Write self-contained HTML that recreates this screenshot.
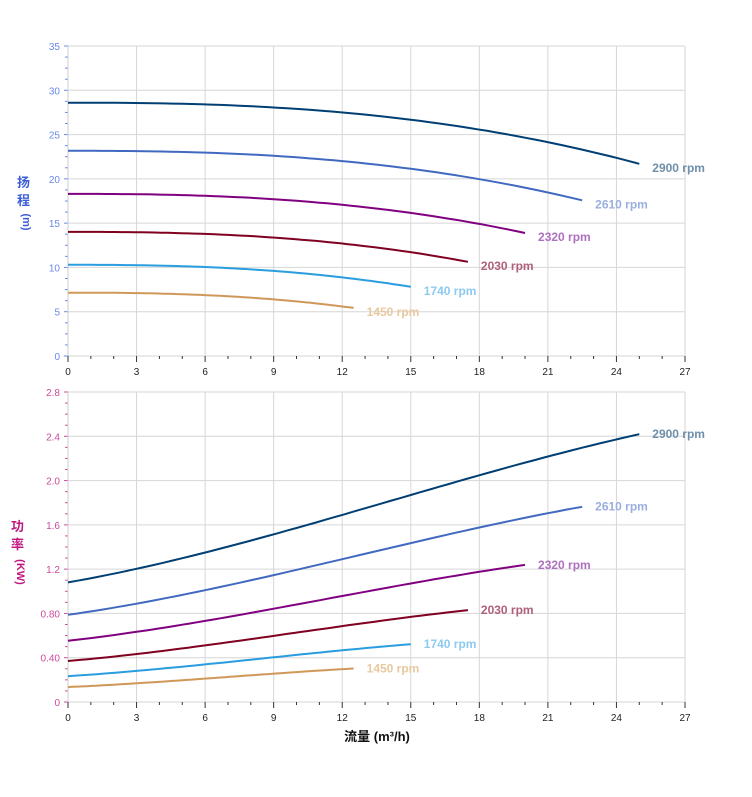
<!DOCTYPE html>
<html><head><meta charset="utf-8"><style>
body{margin:0;background:#fff}
svg{display:block;font-family:"Liberation Sans","Noto Sans CJK SC",sans-serif}
</style></head><body>
<svg id="s" width="752" height="797" xmlns="http://www.w3.org/2000/svg"></svg>
<script>
const s=document.getElementById('s');let h='';
const X0=68,X1=685,xs=q=>X0+q*(X1-X0)/27;
const T0=356,T1=46,ys1=v=>T0-v*(T0-T1)/35;
const B0=702,B1=392,ys2=v=>B0-v*(B0-B1)/2.8;
function grid(y0,y1,n,labels,col){
 for(let i=0;i<=9;i++){let x=xs(i*3);h+=`<line x1="${x}" y1="${y1}" x2="${x}" y2="${y0}" stroke="#d6d6d6"/>`;}
 for(let i=0;i<=n;i++){let y=y0-(y0-y1)*i/n;h+=`<line x1="${X0}" y1="${y}" x2="${X1}" y2="${y}" stroke="#d6d6d6"/>`;
  h+=`<line x1="${X0-4}" y1="${y}" x2="${X0}" y2="${y}" stroke="${col}"/>`;
  h+=`<text x="${X0-8}" y="${y+4}" font-size="10" fill="${col}" text-anchor="end">${labels[i]}</text>`;
  if(i<n){for(let k=1;k<4;k++){let yy=y-(y0-y1)/n*k/4;h+=`<line x1="${X0-3}" y1="${yy}" x2="${X0}" y2="${yy}" stroke="${col}"/>`;}}}
 h+=`<line x1="${X0}" y1="${y1}" x2="${X0}" y2="${y0}" stroke="#ccc"/>`;
 for(let i=0;i<=27;i++){let x=xs(i);h+=`<line x1="${x}" y1="${y0}" x2="${x}" y2="${y0+(i%3?3:6)}" stroke="#333"/>`;}
 for(let i=0;i<=9;i++)h+=`<text x="${xs(i*3)}" y="${y0+19}" font-size="10" fill="#222" text-anchor="middle">${i*3}</text>`;
}
grid(T0,T1,7,[0,5,10,15,20,25,30,35],'#6a88ea');
grid(B0,B1,7,['0','0.40','0.80','1.2','1.6','2.0','2.4','2.8'],'#cc4a9c');
h+=`<text x="17" y="187" font-size="13" fill="#3c5fd8" font-weight="bold">扬</text><text x="17" y="205" font-size="13" fill="#3c5fd8" font-weight="bold">程</text><text x="23" y="222" font-size="11" fill="#3c5fd8" font-weight="bold" transform="rotate(90 23 222)" text-anchor="middle">(m)</text>`;
h+=`<text x="11" y="531" font-size="13" fill="#c01880" font-weight="bold">功</text><text x="11" y="549" font-size="13" fill="#c01880" font-weight="bold">率</text><text x="17" y="572" font-size="11" fill="#c01880" font-weight="bold" transform="rotate(90 17 572)" text-anchor="middle">(KW)</text>`;
h+=`<text x="377" y="741" font-size="13" fill="#111" font-weight="bold" text-anchor="middle">流量 (m³/h)</text>`;
const Hf=q=>28.6-6.9*Math.pow(q/25,2.5);
const Pf=q=>1.08+0.0363*q+0.00169*q*q-0.00004*q*q*q;
const sp=[[2900,'#003f73','#6f8faa'],[2610,'#4169c0','#9aaee0'],[2320,'#800080','#b070c0'],[2030,'#800020','#b0607a'],[1740,'#2a9de0','#8ccaf0'],[1450,'#d09858','#e8c8a0']];
sp.forEach(([n,c,lc])=>{const r=n/2900;let a='',b='';
 for(let k=0;k<=60;k++){const q0=25*k/60,q=q0*r;
  a+=(k?'L':'M')+xs(q).toFixed(1)+','+ys1(Hf(q0)*r*r).toFixed(1);
  b+=(k?'L':'M')+xs(q).toFixed(1)+','+ys2(Pf(q0)*r*r*r).toFixed(1);}
 h+=`<path d="${a}" fill="none" stroke="${c}" stroke-width="2"/><path d="${b}" fill="none" stroke="${c}" stroke-width="2"/>`;
 const qe=25*r,xe=xs(qe)+13;
 h+=`<text x="${xe}" y="${ys1(21.7*r*r)+8}" font-size="12" font-weight="bold" fill="${lc}">${n} rpm</text>`;
 h+=`<text x="${xe}" y="${ys2(2.42*r*r*r)+4}" font-size="12" font-weight="bold" fill="${lc}">${n} rpm</text>`;
});
s.innerHTML=h;
</script>
</body></html>
